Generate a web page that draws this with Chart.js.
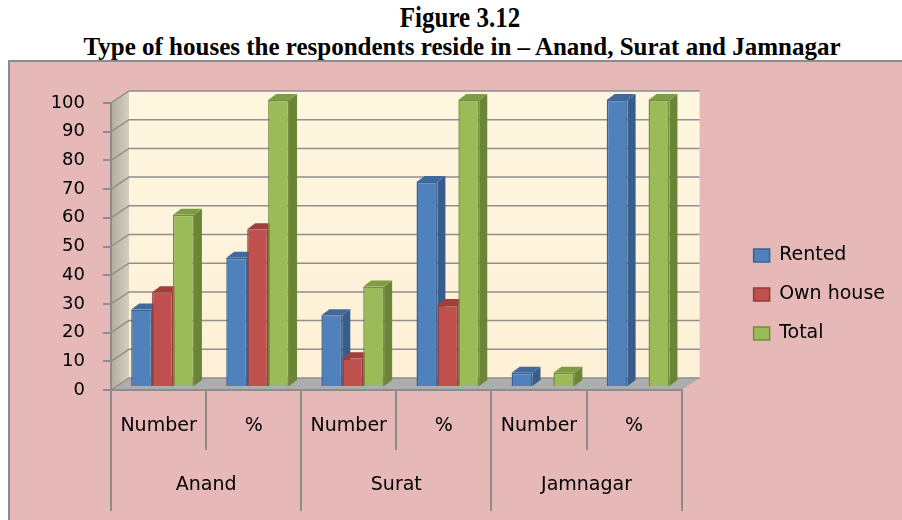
<!DOCTYPE html>
<html>
<head>
<meta charset="utf-8">
<script src="https://cdn.jsdelivr.net/npm/chart.js@4.4.1/dist/chart.umd.min.js"></script>
<style>
  body { margin: 0; width: 902px; height: 520px; overflow: hidden; background: #fff; position: relative; }
  .title { position: absolute; font-family: "Liberation Serif", serif; font-weight: bold; font-size: 25px;
           line-height: 25px; text-align: center; white-space: nowrap; transform-origin: center top; }
  #frame { position: absolute; left: 8px; top: 60px; width: 910px; height: 470px; box-sizing: border-box;
           background: #E6B9B8; border: 2px solid #8c8c8c; }
  #wrap { position: absolute; left: 10px; top: 62px; width: 910px; height: 458px; }
</style>
</head>
<body>
<div class="title" style="left:260px; width:400px; top:2px; transform: scale(1, 1.2);">Figure 3.12</div>
<div class="title" style="left:12px; width:900px; top:34px;">Type of houses the respondents reside in – Anand, Surat and Jamnagar</div>
<div id="frame"></div>
<div id="wrap"><canvas id="bar-chart"></canvas></div>
<script>

// DATA

const measures = ['Number', '%', 'Number', '%', 'Number', '%'];
const cities = ['Anand', 'Surat', 'Jamnagar'];
const rented = [27, 45, 25, 71.4, 5, 100];
const ownHouse = [33, 55, 10, 28.6, 0, 0];
const total = [60, 100, 35, 100, 5, 100];
const yTicks = [0, 10, 20, 30, 40, 50, 60, 70, 80, 90, 100];

// 3D look: wall depth, bar depth and bar shift
const wall = { dx: 18, dy: -12 };
const depth = { dx: 8, dy: -6 };
const shift = { dx: 4, dy: -3 };

const faces = [
  { side: '#385D8A', top: '#41699B' },
  { side: '#8C3836', top: '#A23F3C' },
  { side: '#6B8536', top: '#7F9C44' }
];

// draws the back wall, left wall, floor and the bars' side and top faces
const roomPlugin = {
  id: 'room',
  beforeDraw(chart) {
    const ctx = chart.ctx;
    const a = chart.chartArea;
    const y = chart.scales.y;
    ctx.save();
    // back wall
    const g = ctx.createLinearGradient(0, a.top, 0, a.bottom);
    g.addColorStop(0, '#FFF6E0');
    g.addColorStop(1, '#FDF0D6');
    ctx.fillStyle = g;
    ctx.fillRect(a.left + wall.dx, a.top + wall.dy, a.right - a.left, a.bottom - a.top);
    // left wall
    const lg = ctx.createLinearGradient(a.left, 0, a.left + wall.dx, 0);
    lg.addColorStop(0, '#B3AC9C');
    lg.addColorStop(1, '#D6CFBE');
    ctx.fillStyle = lg;
    ctx.beginPath();
    ctx.moveTo(a.left, a.top);
    ctx.lineTo(a.left + wall.dx, a.top + wall.dy);
    ctx.lineTo(a.left + wall.dx, a.bottom + wall.dy);
    ctx.lineTo(a.left, a.bottom);
    ctx.closePath();
    ctx.fill();
    // floor
    ctx.fillStyle = '#ADADAD';
    ctx.beginPath();
    ctx.moveTo(a.left, a.bottom);
    ctx.lineTo(a.left + wall.dx, a.bottom + wall.dy);
    ctx.lineTo(a.right + wall.dx, a.bottom + wall.dy);
    ctx.lineTo(a.right, a.bottom);
    ctx.closePath();
    ctx.fill();
    // grid lines on the walls
    ctx.strokeStyle = '#8F8F8F';
    ctx.lineWidth = 1.5;
    yTicks.forEach(v => {
      const py = y.getPixelForValue(v);
      ctx.beginPath();
      ctx.moveTo(a.left, py);
      ctx.lineTo(a.left + wall.dx, py + wall.dy);
      ctx.lineTo(a.right + wall.dx, py + wall.dy);
      ctx.stroke();
    });
    ctx.restore();
  },
  beforeDatasetsDraw(chart) {
    const ctx = chart.ctx;
    ctx.save();
    ctx.translate(shift.dx, shift.dy);
    const bars = [];
    chart.data.datasets.forEach((ds, i) => {
      chart.getDatasetMeta(i).data.forEach((el, j) => {
        if (ds.data[j] > 0) bars.push({ el: el, f: faces[i] });
      });
    });
    bars.sort((p, q) => p.el.x - q.el.x);
    bars.forEach(b => {
      const l = b.el.x - b.el.width / 2;
      const r = b.el.x + b.el.width / 2;
      const t = b.el.y;
      const base = b.el.base;
      ctx.fillStyle = b.f.side;
      ctx.beginPath();
      ctx.moveTo(r, t);
      ctx.lineTo(r + depth.dx, t + depth.dy);
      ctx.lineTo(r + depth.dx, base + depth.dy);
      ctx.lineTo(r, base);
      ctx.closePath();
      ctx.fill();
      ctx.fillStyle = b.f.top;
      ctx.beginPath();
      ctx.moveTo(l, t);
      ctx.lineTo(l + depth.dx, t + depth.dy);
      ctx.lineTo(r + depth.dx, t + depth.dy);
      ctx.lineTo(r, t);
      ctx.closePath();
      ctx.fill();
    });
  },
  afterDatasetsDraw(chart) {
    chart.ctx.restore();
  }
};

const data = {
  labels: measures,
  datasets: [
    { label: 'Rented', data: rented, backgroundColor: '#4F81BD', borderColor: '#3A6395', borderWidth: 1.5 },
    { label: 'Own house', data: ownHouse, backgroundColor: '#C0504D', borderColor: '#933C3A', borderWidth: 1.5 },
    { label: 'Total', data: total, backgroundColor: '#9BBB59', borderColor: '#738F3D', borderWidth: 1.5 }
  ]
};

const config = {
  type: 'bar',
  data,
  plugins: [roomPlugin],
  options: {
    responsive: true,
    maintainAspectRatio: false,
    animation: false,
    categoryPercentage: 0.66,
    barPercentage: 1.0,
    layout: { padding: { top: 41, right: 25, bottom: 0, left: 0 } },
    plugins: {
      tooltip: { enabled: false },
      legend: {
        position: 'right',
        align: 'start',
        maxWidth: 200,
        title: { display: true, text: '', font: { size: 10, lineHeight: 1 }, padding: { top: 113, bottom: 0 } },
        labels: {
          boxWidth: 16,
          boxHeight: 13,
          padding: 20,
          color: '#000',
          font: { family: 'DejaVu Sans', size: 19 }
        }
      }
    },
    scales: {
      y: {
        min: 0,
        max: 100,
        afterBuildTicks: s => { s.ticks = yTicks.map(v => ({ value: v })); },
        afterFit: s => { s.width = 101; },
        grid: { drawOnChartArea: false, tickLength: 8, color: '#8C8C8C', lineWidth: 2 },
        border: { color: '#8C8C8C', width: 2 },
        ticks: { color: '#000', padding: 18, font: { family: 'DejaVu Sans', size: 18 } }
      },
      x: {
        position: 'bottom',
        afterFit: s => { s.height = 46; },
        grid: { offset: true, drawOnChartArea: false, tickLength: 60, color: '#8C8C8C', lineWidth: 2 },
        border: { color: '#8C8C8C', width: 2 },
        ticks: { color: '#000', padding: -35, maxRotation: 0, font: { family: 'DejaVu Sans', size: 19 } }
      },
      x2: {
        type: 'category',
        position: 'bottom',
        labels: cities,
        afterFit: s => { s.height = 84; },
        grid: { offset: true, drawOnChartArea: false, tickLength: 75, color: '#8C8C8C', lineWidth: 2 },
        border: { display: false },
        ticks: { color: '#000', padding: -37, maxRotation: 0, font: { family: 'DejaVu Sans', size: 19 } }
      },
      gap: {
        type: 'linear',
        position: 'right',
        afterFit: s => { s.width = 52; },
        grid: { display: false },
        border: { display: false },
        ticks: { display: false }
      }
    }
  }
};

const barChart = new Chart(document.getElementById('bar-chart'), config);
</script>
</body>
</html>
